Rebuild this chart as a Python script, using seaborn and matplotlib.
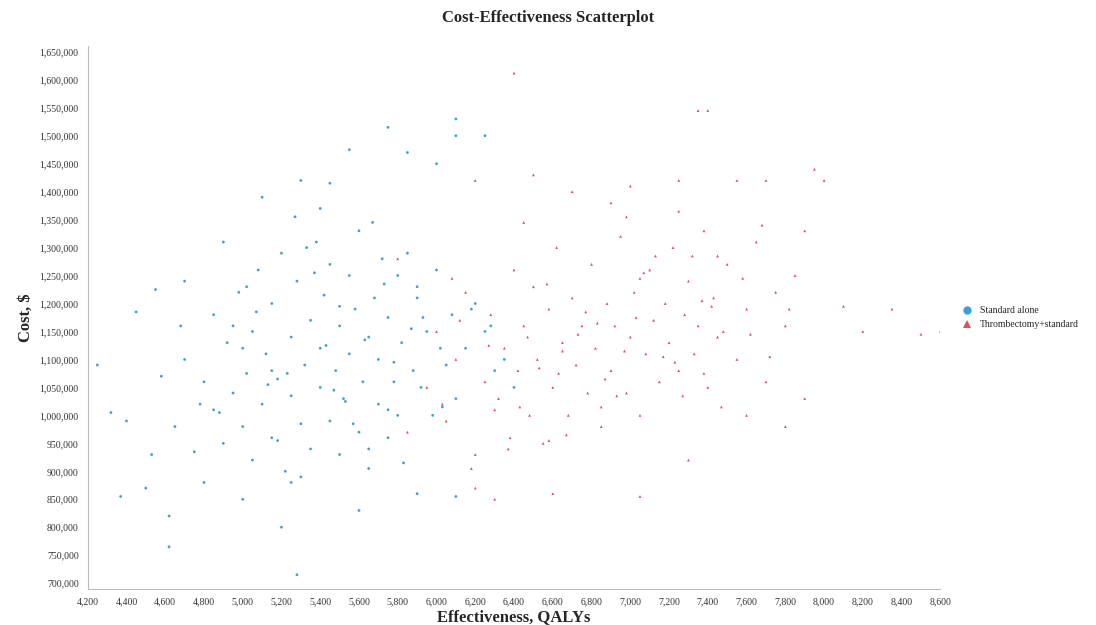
import matplotlib
matplotlib.use("Agg")
import matplotlib.pyplot as plt
import matplotlib.ticker as mticker
import numpy as np
import pandas as pd
import seaborn as sns

# points read (approximately) off the reference, cost in thousands of $
std_x = [4.25, 4.32, 4.37, 4.45, 4.55, 4.62, 4.62, 5.28, 5.20, 5.45, 5.75, 5.85, 6.10, 6.10, 6.25,
         5.10, 5.30, 4.90, 5.55, 6.00, 4.70, 4.40, 4.50, 4.80, 5.00, 5.30, 5.60, 5.90, 6.10,
         4.65, 4.70, 4.75, 4.80, 4.85, 4.85, 4.90, 4.92, 4.95, 4.98, 5.00, 5.02, 5.05, 5.05,
         5.08, 5.10, 5.12, 5.15, 5.15, 5.18, 5.20, 5.22, 5.25, 5.25, 5.28, 5.30, 5.32, 5.35,
         5.35, 5.38, 5.40, 5.40, 5.42, 5.45, 5.45, 5.48, 5.50, 5.50, 5.52, 5.55, 5.55, 5.58,
         5.60, 5.60, 5.62, 5.65, 5.65, 5.68, 5.70, 5.70, 5.72, 5.75, 5.75, 5.78, 5.80, 5.80,
         5.82, 5.85, 5.88, 5.90, 5.92, 5.95, 5.98, 6.00, 6.02, 6.05, 6.08, 6.10, 6.15, 6.20,
         6.25, 6.30, 4.88, 5.02, 5.18, 5.33, 5.47, 5.63, 5.78, 5.93, 5.07, 5.23, 5.37, 5.53,
         5.67, 5.83, 4.95, 5.13, 5.27, 5.43, 5.57, 5.73, 5.87, 6.03, 4.78, 4.68, 6.35, 6.40,
         5.15, 5.40, 5.65, 5.90, 5.00, 5.25, 5.50, 5.75, 4.58, 4.53, 6.18, 6.28]
std_y = [1090, 1005, 855, 1185, 1225, 765, 820, 715, 800, 1415, 1515, 1470, 1530, 1500, 1500,
         1390, 1420, 1310, 1475, 1450, 1240, 990, 870, 880, 850, 890, 830, 860, 855,
         980, 1100, 935, 1060, 1180, 1010, 950, 1130, 1040, 1220, 980, 1075, 1150, 920,
         1260, 1020, 1110, 960, 1200, 1065, 1290, 900, 1140, 1035, 1240, 985, 1090, 1170,
         940, 1310, 1050, 1120, 1215, 990, 1270, 1080, 1160, 930, 1030, 1250, 1110, 1190,
         970, 1330, 1060, 1140, 905, 1210, 1020, 1100, 1280, 960, 1175, 1060, 1250, 1000,
         1130, 1290, 1080, 1210, 1050, 1150, 1000, 1260, 1120, 1090, 1180, 1030, 1120, 1200,
         1150, 1080, 1005, 1230, 955, 1300, 1045, 1135, 1095, 1175, 1185, 1075, 1255, 1025,
         1345, 915, 1160, 1055, 1355, 1125, 985, 1235, 1155, 1015, 1020, 1160, 1100, 1050,
         1080, 1370, 940, 1230, 1120, 880, 1195, 1010, 1070, 930, 1190, 1160]

thr_x = [6.40, 7.35, 7.40, 8.00, 7.95, 8.60, 8.50, 8.35, 8.20, 8.10, 7.90, 7.80, 7.60, 7.30, 7.05,
         6.30, 6.20, 6.60, 5.85, 5.80, 6.50, 6.70, 7.00, 7.25, 7.55, 7.70, 6.90, 6.20,
         5.95, 6.00, 6.05, 6.10, 6.15, 6.20, 6.25, 6.28, 6.30, 6.35, 6.38, 6.40, 6.42, 6.45,
         6.48, 6.50, 6.52, 6.55, 6.58, 6.60, 6.62, 6.65, 6.68, 6.70, 6.72, 6.75, 6.78, 6.80,
         6.82, 6.85, 6.88, 6.90, 6.92, 6.95, 6.98, 7.00, 7.02, 7.05, 7.08, 7.10, 7.12, 7.15,
         7.18, 7.20, 7.22, 7.25, 7.28, 7.30, 7.33, 7.35, 7.38, 7.40, 7.43, 7.45, 7.50, 7.55,
         7.60, 7.65, 7.70, 7.75, 7.80, 7.85, 7.90, 6.12, 6.32, 6.47, 6.63, 6.77, 6.93, 7.07,
         7.23, 7.37, 7.48, 6.27, 6.43, 6.57, 6.73, 6.87, 7.03, 7.17, 7.32, 7.47, 7.62, 6.08,
         6.37, 6.53, 6.67, 6.83, 6.97, 7.13, 7.27, 7.42, 7.58, 7.72, 6.18, 6.58, 6.98, 7.38,
         6.45, 6.85, 7.25, 6.65, 7.05, 7.45, 6.03, 7.68, 7.82]
thr_y = [1612, 1545, 1545, 1420, 1440, 1150, 1145, 1190, 1150, 1195, 1030, 980, 1000, 920, 855,
         850, 870, 860, 970, 1280, 1430, 1400, 1410, 1420, 1420, 1420, 1380, 1420,
         1050, 1150, 990, 1100, 1220, 930, 1060, 1180, 1010, 1120, 960, 1260, 1080, 1160,
         1000, 1230, 1100, 950, 1190, 1050, 1300, 1130, 1000, 1210, 1090, 1160, 1040, 1270,
         1120, 980, 1200, 1080, 1160, 1320, 1040, 1140, 1220, 1000, 1110, 1260, 1170, 1060,
         1200, 1130, 1300, 1080, 1180, 1240, 1110, 1160, 1330, 1050, 1210, 1140, 1270, 1100,
         1190, 1310, 1060, 1220, 1160, 1250, 1330, 1170, 1030, 1140, 1075, 1185, 1035, 1255,
         1095, 1205, 1150, 1125, 1015, 1235, 1145, 1065, 1175, 1105, 1285, 1015, 1145, 1245,
         940, 1085, 965, 1165, 1115, 1285, 1035, 1195, 1245, 1105, 905, 955, 1355, 1075,
         1345, 1015, 1365, 1115, 1245, 1285, 1020, 1340, 1190]

df = pd.concat([
    pd.DataFrame({"eff": std_x, "cost": np.array(std_y) * 1000, "arm": "Standard alone"}),
    pd.DataFrame({"eff": thr_x, "cost": np.array(thr_y) * 1000, "arm": "Thrombectomy+standard"}),
])

sns.set_style("white")
plt.rcParams["font.family"] = ["Liberation Serif", "DejaVu Serif"]

fig = plt.figure(figsize=(10.96, 6.25), dpi=100)
ax = fig.add_axes([0.080, 0.058, 0.778, 0.868])
sns.scatterplot(data=df, x="eff", y="cost", hue="arm", style="arm",
                markers={"Standard alone": "o", "Thrombectomy+standard": "^"},
                palette={"Standard alone": "#3d9fd9", "Thrombectomy+standard": "#e84a57"},
                s=4, linewidth=0, ax=ax)

ax.set_xlim(4.2, 8.6)
ax.set_ylim(690000, 1660000)
ax.set_xticks(np.arange(4.2, 8.61, 0.2))
ax.set_yticks(np.arange(700000, 1650001, 50000))
ax.xaxis.set_major_formatter(mticker.FuncFormatter(lambda v, p: f"{v:.3f}".replace(".", ",")))
ax.yaxis.set_major_formatter(mticker.FuncFormatter(lambda v, p: f"{v:,.0f}"))
ax.tick_params(labelsize=7, length=3, colors="#333333")
for s in ["top", "right"]:
    ax.spines[s].set_visible(False)
for s in ["left", "bottom"]:
    ax.spines[s].set_color("#bbbbbb")
ax.set_xlabel("Effectiveness, QALYs", fontsize=12, fontweight="bold")
ax.set_ylabel("Cost, $", fontsize=12, fontweight="bold")
ax.xaxis.labelpad = 2
fig.text(0.5, 0.965, "Cost-Effectiveness Scatterplot", ha="center", fontsize=12, fontweight="bold")

leg = ax.legend(loc="center left", bbox_to_anchor=(1.01, 0.5), frameon=False, fontsize=7,
                markerscale=3, handletextpad=0.3)

fig.savefig("out.png", dpi=100)
